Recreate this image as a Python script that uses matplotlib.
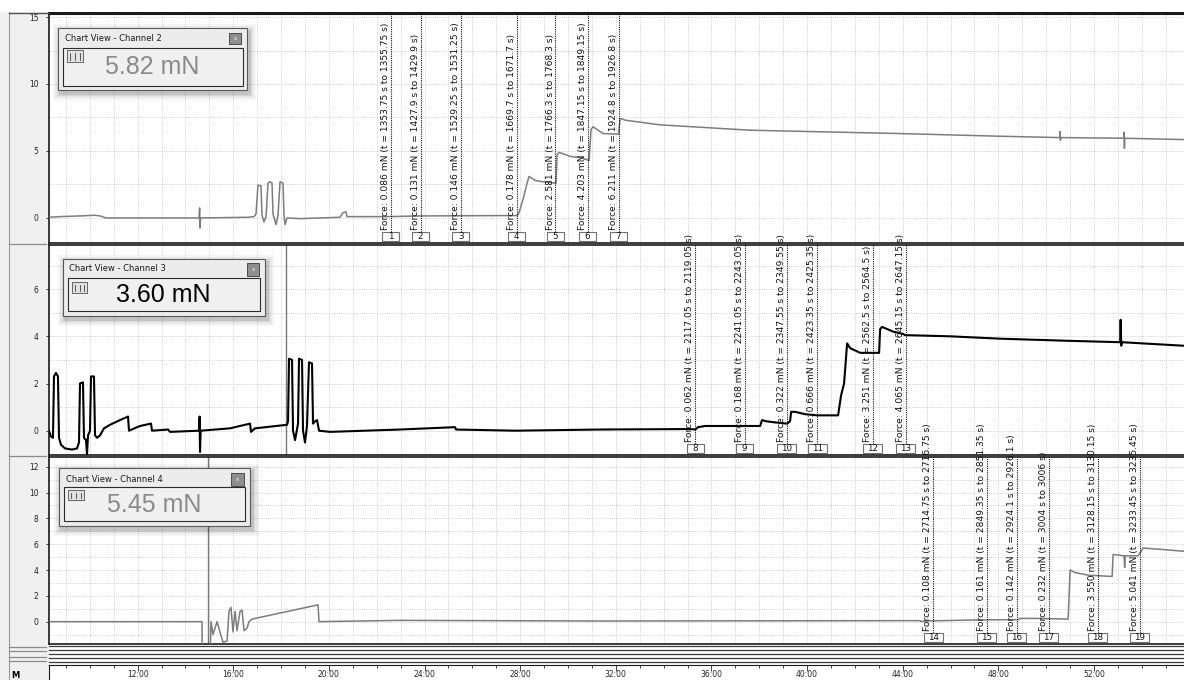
import matplotlib
matplotlib.use("Agg")
import matplotlib.pyplot as plt
from matplotlib.patches import Rectangle
from matplotlib.lines import Line2D
from matplotlib.ticker import MultipleLocator, FuncFormatter
import matplotlib.transforms as mtransforms

# ---------------- data ----------------
# Channel 2 trace (time in s, force in mN)
ch2_t = [497.5, 525, 575, 613, 625.5, 640.6, 751, 874, 875.5, 876.5, 878, 997, 1012, 1017,
         1022, 1029.6, 1032.1, 1037.1, 1042.2, 1047.2, 1052.2, 1057.2, 1059.7, 1067.3, 1072.3,
         1077.3, 1084.8, 1087.3, 1089.9, 1094.9, 1127.5, 1227.9, 1235.4, 1243, 1245.5, 1348.4,
         1428.7, 1672.5, 1677.2, 1687.2, 1697.3, 1702.3, 1717.4, 1737.4, 1770, 1772.6, 1777.6,
         1805.2, 1830.3, 1852.9, 1857.9, 1862.9, 1888, 1927, 1930.7, 1935.7, 1943.3, 2031,
         2257, 2633.5, 2884.5, 3034, 3035, 3036, 3037, 3194.5, 3195.5, 3196.5, 3197.5, 3346]
ch2_v = [0.05, 0.10, 0.15, 0.20, 0.15, 0.00, 0.00, 0.00, 0.75, -0.75, 0.00, 0.05, 0.10, 0.30,
         2.45, 2.40, 0.20, -0.30, 0.10, 2.60, 2.70, 2.60, 0.30, -0.50, 0.20,
         2.70, 2.60, 0.20, -0.50, 0.00, -0.05, 0.05, 0.40, 0.45, 0.10, 0.10,
         0.15, 0.18, 0.40, 1.40, 2.60, 3.10, 2.80, 2.70, 2.60, 4.70, 4.90,
         4.60, 4.50, 4.30, 6.60, 6.80, 6.30, 6.25, 7.40, 7.40, 7.30, 6.95,
         6.55, 6.30, 6.10, 6.00, 6.45, 5.80, 6.00, 5.95, 6.40, 5.20, 5.95, 5.85]

# Channel 3 trace
ch3_t = [497.5, 502.5, 507.5, 510, 515, 520, 522.6, 527.6, 537.7, 555.2, 567.8, 572.8, 575.3,
         582.8, 585.3, 590.4, 592.9, 595.4, 600.4, 602.9, 610.4, 613, 618, 625.5, 635.5, 650.6,
         675.7, 695.8, 698.3, 725.9, 753.5, 756, 796.2, 801.2, 874, 875.5, 876.5, 878, 951.8,
         1002, 1004.5, 1014.5, 1094.9, 1097.4, 1099.9, 1107.4, 1109.9, 1115, 1122.5, 1125,
         1132.5, 1135, 1140, 1145, 1150, 1157.6, 1160.1, 1165.2, 1170.2, 1175.2, 1202.8,
         1378.5, 1516.6, 1519, 1667, 1880, 2106.4, 2119.5, 2126.5, 2144.1, 2239.4, 2282.1,
         2287.1, 2297.2, 2319.8, 2349.9, 2357.4, 2360, 2370, 2395.1, 2425.2, 2477.9, 2485.4,
         2492.9, 2500.5, 2508, 2520.6, 2533.1, 2580.8, 2583.3, 2588.3, 2615.9, 2641, 2646,
         2759, 2884.5, 3035, 3185.7, 3187, 3188.5, 3190, 3346]
ch3_v = [0.00, -0.25, -0.30, 2.30, 2.45, 2.30, -0.30, -0.60, -0.75, -0.80, -0.75, -0.50, 2.00,
         2.05, -0.30, -0.40, -1.00, -0.20, 0.00, 2.30, 2.30, -0.20, -0.30, -0.20, 0.10, 0.25,
         0.45, 0.60, 0.00, 0.20, 0.30, 0.00, 0.05, -0.05, 0.00, 0.60, -0.90, 0.00, 0.10,
         0.30, -0.05, 0.10, 0.25, 0.40, 3.05, 3.00, 0.00, -0.40, 0.30, 3.05,
         3.00, 0.00, -0.50, 0.20, 2.90, 2.85, 0.30, 0.40, 0.45, 0.00, -0.05,
         0.05, 0.15, 0.05, 0.00, 0.05, 0.07, 0.05, 0.15, 0.20, 0.20, 0.20,
         0.45, 0.40, 0.35, 0.30, 0.40, 0.80, 0.80, 0.70, 0.65, 0.65, 1.50,
         2.00, 3.70, 3.50, 3.40, 3.30, 3.30, 4.30, 4.40, 4.20, 4.10, 4.05,
         4.00, 3.90, 3.82, 3.75, 4.70, 3.60, 3.75, 3.60]

# Channel 4 trace
ch4_t = [497.5, 881.5, 882, 901.6, 904.1, 909.1, 919.2, 926.7, 934.2, 944.3, 949.3, 954.3,
         959.3, 964.4, 969.4, 976.9, 981.9, 987, 994.5, 999.5, 1007, 1172.7, 1175.2, 1378.5,
         1880, 2683.7, 2686.2, 2696.3, 2821.8, 2897.1, 2929.7, 2934.7, 2977.4, 3055.2, 3060.2,
         3072.8, 3105.4, 3165.6, 3168.1, 3195.7, 3197, 3198.5, 3230.9, 3243.4, 3286.1, 3346]
ch4_v = [0.00, 0.00, -3.0, -3.0, 0.00, -1.00, 0.00, -0.80, -1.60, -1.50, 0.80, 1.10,
         -0.80, 0.80, -0.70, 0.80, 0.90, -0.70, -0.50, 0.00, 0.20, 1.30, 0.00, 0.10,
         0.05, 0.08, 0.00, 0.05, 0.13, 0.15, 0.15, 0.25, 0.25, 0.20, 4.00,
         3.80, 3.60, 3.50, 5.20, 5.10, 4.20, 5.10, 5.10, 5.70, 5.60, 5.45]

# Comment markers
ch2_ids = [1, 2, 3, 4, 5, 6, 7]
ch2_force = [0.086, 0.131, 0.146, 0.178, 2.581, 4.203, 6.211]
ch2_t0 = [1353.75, 1427.9, 1529.25, 1669.7, 1766.3, 1847.15, 1924.8]
ch2_t1 = [1355.75, 1429.9, 1531.25, 1671.7, 1768.3, 1849.15, 1926.8]

ch3_ids = [8, 9, 10, 11, 12, 13]
ch3_force = [0.062, 0.168, 0.322, 0.666, 3.251, 4.065]
ch3_t0 = [2117.05, 2241.05, 2347.55, 2423.35, 2562.5, 2645.15]
ch3_t1 = [2119.05, 2243.05, 2349.55, 2425.35, 2564.5, 2647.15]

ch4_ids = [14, 15, 16, 17, 18, 19]
ch4_force = [0.108, 0.161, 0.142, 0.232, 3.550, 5.041]
ch4_t0 = [2714.75, 2849.35, 2924.1, 3004, 3128.15, 3233.45]
ch4_t1 = [2716.75, 2851.35, 2926.1, 3006, 3130.15, 3235.45]

readout_titles = ["Chart View - Channel 2", "Chart View - Channel 3", "Chart View - Channel 4"]
readout_values = ["5.82 mN", "3.60 mN", "5.45 mN"]

cursor_ch3 = 1092.4
cursor_ch4 = 896.6

x_range = (497.5, 3346)
# ---------------------------------------

W, H = 1184, 680
fig = plt.figure(figsize=(W / 100, H / 100), dpi=100)
fig.patch.set_facecolor("white")


def fr(x0, y0, x1, y1, **kw):
    r = Rectangle((x0 / W, 1 - y1 / H), (x1 - x0) / W, (y1 - y0) / H,
                  transform=fig.transFigure, **kw)
    fig.add_artist(r)
    return r


def fl(x0, y0, x1, y1, **kw):
    ln = Line2D([x0 / W, x1 / W], [1 - y0 / H, 1 - y1 / H], transform=fig.transFigure, **kw)
    fig.add_artist(ln)
    return ln


# left gutter
fr(0, 12, 48.5, 680, fc="#f0f0f0", lw=0, zorder=0)
fl(9, 12, 9, 680, color="#9a9a9a", lw=0.8, zorder=0.5)
fl(9, 12.5, 49, 12.5, color="#505050", lw=1.0, zorder=0.5)
fl(9, 243.8, 46, 243.8, color="#8a8a8a", lw=0.9, zorder=0.5)
fl(9, 455.8, 46, 455.8, color="#8a8a8a", lw=0.9, zorder=0.5)

LEFT = 49
panels = [(13, 243), (245, 455), (457, 644)]
ylims = [(-1.87, 15.3), (-1.03, 7.87), (-1.73, 12.75)]
ymaj = [5, 2, 2]
ymin = [2.5, 1, 1]

axes = []
for (top, bot), yl, mj, mn in zip(panels, ylims, ymaj, ymin):
    ax = fig.add_axes([LEFT / W, 1 - bot / H, (W - LEFT) / W, (bot - top) / H])
    ax.set_xlim(*x_range)
    ax.set_ylim(*yl)
    ax.xaxis.set_major_locator(MultipleLocator(240))
    ax.xaxis.set_minor_locator(MultipleLocator(60))
    ax.yaxis.set_major_locator(MultipleLocator(mj))
    ax.yaxis.set_minor_locator(MultipleLocator(mn))
    ax.grid(which="both", ls=(0, (1, 1.5)), color="#c2c2c2", lw=0.6)
    ax.set_axisbelow(True)
    ax.tick_params(axis="x", which="both", length=0, labelbottom=False)
    ax.tick_params(axis="y", which="major", labelsize=5.5, length=2, width=0.6,
                   pad=5.5, colors="#222222")
    ax.tick_params(axis="y", which="minor", length=0)
    for s in ["left", "top", "bottom"]:
        ax.spines[s].set_color("#1a1a1a")
        ax.spines[s].set_linewidth(1.2)
    ax.spines["right"].set_visible(False)
    axes.append(ax)

ax1, ax2, ax3 = axes
ax1.spines["top"].set_linewidth(2.2)

ax1.plot(ch2_t, ch2_v, color="#7c7c7c", lw=1.1, zorder=3)
ax2.plot(ch3_t, ch3_v, color="#000000", lw=1.5, zorder=3)
ax3.plot(ch4_t, ch4_v, color="#7c7c7c", lw=1.1, zorder=3)

ax2.axvline(cursor_ch3, color="#7a7a7a", lw=1.0, zorder=2)
ax3.axvline(cursor_ch4, color="#7a7a7a", lw=1.0, zorder=2)

s_per_px = (x_range[1] - x_range[0]) / (W - LEFT)


def markers(ax, ids, force, t0, t1, panel):
    ph = panel[1] - panel[0]
    trans = mtransforms.blended_transform_factory(ax.transData, ax.transAxes)
    for n, f, a, b in zip(ids, force, t0, t1):
        ax.axvline(b, color="#111111", ls=(0, (1, 1)), lw=0.8, zorder=4)
        label = f"Force: {f:.3f} mN (t = {a:g} s to {b:g} s)"
        ax.annotate(label, xy=(b, 0), xycoords=trans, xytext=(-0.6, 9.3),
                    textcoords="offset points", rotation=90, ha="right", va="bottom",
                    fontsize=6.6, color="#111111", zorder=6)
        wpx = 17 if n < 10 else 19
        w = wpx * s_per_px
        ax.add_patch(Rectangle((b - w / 2, 2 / ph), w, 9 / ph, transform=trans,
                               fc="white", ec="#707070", lw=0.8, zorder=5, clip_on=False))
        ax.text(b, 6.5 / ph, str(n), transform=trans, ha="center", va="center",
                fontsize=6.3, color="#111111", zorder=6)


markers(ax1, ch2_ids, ch2_force, ch2_t0, ch2_t1, panels[0])
markers(ax2, ch3_ids, ch3_force, ch3_t0, ch3_t1, panels[1])
markers(ax3, ch4_ids, ch4_force, ch4_t0, ch4_t1, panels[2])

# collapsed channel stripes
for y in [645.8, 650.2, 654.4, 658.4, 661.8]:
    fl(LEFT, y, W, y, color="#3a3a3a", lw=0.9, zorder=2)
for y in [646.7, 650.7, 656.7, 661.0]:
    fl(9, y, 46, y, color="#8a8a8a", lw=0.9, zorder=2)

# time axis
axt = fig.add_axes([LEFT / W, 0, (W - LEFT) / W, (680 - 664.5) / H])
axt.set_xlim(*x_range)
axt.set_ylim(0, 1)
axt.set_yticks([])
axt.xaxis.set_major_locator(MultipleLocator(240))
axt.xaxis.set_minor_locator(MultipleLocator(60))
axt.xaxis.set_major_formatter(FuncFormatter(lambda v, p: f"{int(v // 60)}:{int(v % 60):02d}"))
axt.tick_params(axis="x", which="both", direction="in", top=True, bottom=False,
                labeltop=False, labelbottom=True, labelsize=5.5, pad=-7, colors="#222222")
axt.tick_params(axis="x", which="major", length=4, width=0.6)
axt.tick_params(axis="x", which="minor", length=2, width=0.6)
axt.spines["top"].set_color("#1a1a1a")
axt.spines["left"].set_color("#1a1a1a")
axt.spines["right"].set_visible(False)
axt.spines["bottom"].set_visible(False)
fig.text(11 / W, 1 - 671 / H, "M", fontsize=6.0, fontweight="bold", va="top", ha="left")

# white strip above the top border
fr(0, 0, W, 12, fc="white", lw=0, zorder=20)


# Chart View readouts
def chart_view(box, inner, close, icon, title, title_xy, value, value_xy, vcolor):
    x0, y0, x1, y1 = box
    for d, a in [(7, 0.04), (5, 0.05), (3, 0.07), (1.5, 0.09)]:
        fr(x0 - d + 2, y0 - d + 3, x1 + d + 2, y1 + d + 3, fc="black", alpha=a, lw=0, zorder=10)
    fr(x0, y0, x1, y1, fc="#ececec", ec="#5a5a5a", lw=0.8, zorder=11)
    fr(*inner, fc="#f0f0f0", ec="#2c2c2c", lw=0.8, zorder=12)
    fr(*close, fc="#8e8e8e", ec="#3a3a3a", lw=0.6, zorder=12)
    cx = (close[0] + close[2]) / 2
    cy = (close[1] + close[3]) / 2
    fig.text(cx / W, 1 - cy / H, "x", fontsize=4, color="white", ha="center", va="center",
             zorder=13)
    fr(*icon, fc="#e2e2e2", ec="#505050", lw=0.6, zorder=12)
    ix0, iy0, ix1, iy1 = icon
    for k in range(3):
        xx = ix0 + 3 + k * (ix1 - ix0 - 6) / 2
        fl(xx, iy0 + 2.5, xx, iy1 - 2.5, color="#404040", lw=0.6, zorder=13)
    fig.text(title_xy[0] / W, 1 - title_xy[1] / H, title, fontsize=6, color="#1a1a1a",
             ha="left", va="center", zorder=13)
    fig.text(value_xy[0] / W, 1 - value_xy[1] / H, value, fontsize=18, color=vcolor,
             family="Liberation Sans", ha="center", va="center", zorder=13)


chart_view((58, 28, 247, 90), (63, 48, 243, 86), (229, 33, 241, 44), (67, 50, 83, 62),
           readout_titles[0], (65, 38.5), readout_values[0], (152, 66.5), "#8a8a8a")
chart_view((63, 259, 265, 316), (68, 278, 260, 311), (247, 263, 259, 276), (72, 282, 87, 293),
           readout_titles[1], (69, 269), readout_values[1], (163, 295.5), "#000000")
chart_view((59, 468, 250, 526), (64, 487, 245, 521), (231, 473, 244, 486), (68, 490, 84, 500),
           readout_titles[2], (66, 480), readout_values[2], (154, 504.5), "#8a8a8a")

fig.savefig("out.png", dpi=100)
